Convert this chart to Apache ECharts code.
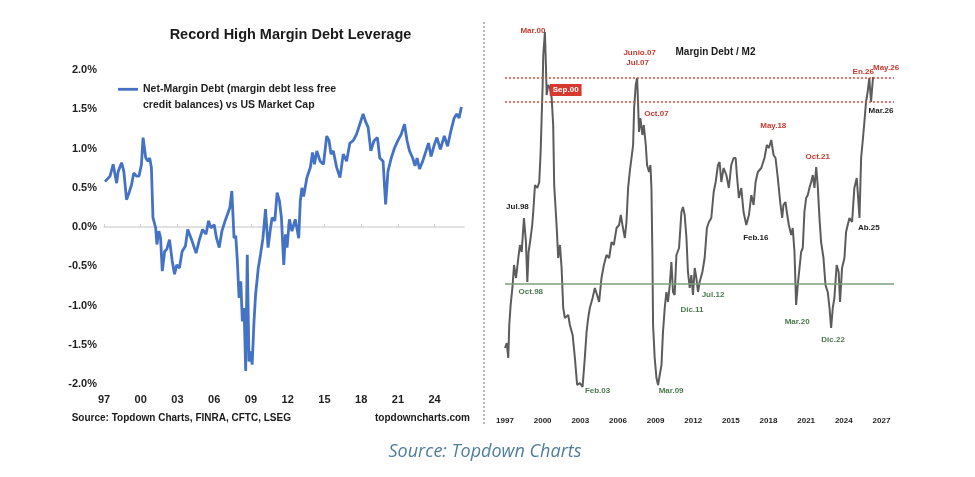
<!DOCTYPE html>
<html>
<head>
<meta charset="utf-8">
<script src="https://cdn.jsdelivr.net/npm/echarts@6/dist/echarts.min.js"></script>
<style>
html,body{margin:0;padding:0;background:#fff;}
#c{width:975px;height:477px;}
</style>
</head>
<body>
<div id="c"></div>
<script>
// ---------- Left panel: Net-Margin Debt vs US Market Cap (%) ----------
const leftYears = [
1997.08,1997.49,1997.75,1998.03,1998.16,1998.44,1998.62,1998.84,1999.05,1999.25,
1999.43,1999.65,1999.86,2000.06,2000.19,2000.41,2000.59,2000.73,2000.87,2001.00,
2001.22,2001.32,2001.48,2001.62,2001.76,2001.95,2002.13,2002.35,2002.57,2002.76,
2002.94,2003.16,2003.38,2003.65,2003.84,2004.11,2004.52,2004.79,2005.05,2005.33,
2005.54,2005.73,2006.00,2006.19,2006.41,2006.63,2006.89,2007.08,2007.28,2007.44,
2007.62,2007.76,2007.89,2008.03,2008.17,2008.30,2008.44,2008.57,2008.70,2008.84,
2008.97,2009.10,2009.25,2009.38,2009.60,2009.78,2009.98,2010.19,2010.40,2010.60,
2010.73,2010.95,2011.14,2011.33,2011.49,2011.68,2011.82,2011.95,2012.14,2012.35,
2012.62,2012.90,2013.03,2013.16,2013.30,2013.57,2013.85,2014.03,2014.19,2014.38,
2014.65,2014.92,2015.19,2015.38,2015.54,2015.73,2016.00,2016.27,2016.54,2016.81,
2017.08,2017.35,2017.62,2017.89,2018.16,2018.35,2018.57,2018.79,2019.05,2019.33,
2019.52,2019.79,2020.00,2020.19,2020.46,2020.73,2021.00,2021.27,2021.54,2021.75,
2021.95,2022.21,2022.40,2022.57,2022.77,2023.03,2023.30,2023.50,2023.71,2023.98,
2024.19,2024.47,2024.79,2025.06,2025.32,2025.60,2025.81,2026.00,2026.19];
const leftValues = [
0.58,0.65,0.80,0.56,0.71,0.82,0.71,0.35,0.44,0.54,
0.69,0.65,0.65,0.80,1.14,0.88,0.84,0.88,0.76,0.12,
-0.01,-0.22,-0.05,-0.14,-0.56,-0.31,-0.28,-0.16,-0.43,-0.60,
-0.48,-0.52,-0.31,-0.24,-0.03,-0.14,-0.33,-0.16,-0.03,-0.09,
0.08,-0.01,0.03,-0.14,-0.26,-0.05,0.08,0.16,0.25,0.46,
-0.14,-0.11,-0.43,-0.90,-0.69,-1.20,-1.03,-1.83,-0.35,-1.71,
-1.58,-1.75,-1.20,-0.86,-0.52,-0.35,-0.14,0.23,-0.26,-0.01,
0.12,0.08,0.44,0.33,0.12,-0.48,-0.09,-0.26,0.10,-0.05,
0.10,-0.14,0.33,0.50,0.39,0.63,0.76,0.95,0.80,0.97,
0.84,0.80,1.16,1.10,0.93,0.97,0.76,0.63,0.93,0.84,
1.07,1.10,1.18,1.31,1.44,1.35,1.27,0.97,1.10,1.14,
0.88,0.84,0.29,0.71,0.88,1.01,1.10,1.18,1.31,1.10,
0.97,0.88,0.78,0.88,0.74,0.84,0.97,1.07,0.90,1.05,
1.14,0.99,1.16,1.03,1.22,1.39,1.44,1.39,1.53];
const leftTickYears = [1997,2000,2003,2006,2009,2012,2015,2018,2021,2024];
const leftSeriesName = 'Net-Margin Debt (margin debt less free\ncredit balances) vs US Market Cap';

// ---------- Right panel: Margin Debt / M2 (%) ----------
const rightYears = [
1997.00,1997.14,1997.26,1997.34,1997.45,1997.61,1997.72,1997.88,1998.06,1998.19,
1998.33,1998.51,1998.67,1998.78,1998.88,1999.04,1999.17,1999.25,1999.39,1999.57,
1999.73,1999.84,1999.92,2000.00,2000.05,2000.18,2000.26,2000.32,2000.44,2000.58,
2000.72,2000.84,2000.92,2001.11,2001.24,2001.38,2001.51,2001.64,2001.77,2002.04,
2002.17,2002.39,2002.57,2002.75,2002.97,2003.18,2003.36,2003.50,2003.63,2003.76,
2003.98,2004.16,2004.34,2004.50,2004.69,2004.88,2005.09,2005.30,2005.49,2005.67,
2005.89,2006.09,2006.23,2006.36,2006.55,2006.68,2006.81,2006.94,2007.08,2007.21,
2007.29,2007.42,2007.53,2007.60,2007.68,2007.79,2007.95,2008.06,2008.22,2008.32,
2008.48,2008.59,2008.67,2008.75,2008.80,2008.93,2009.07,2009.20,2009.33,2009.47,
2009.59,2009.73,2009.86,2009.99,2010.13,2010.26,2010.39,2010.52,2010.66,2010.87,
2011.06,2011.18,2011.32,2011.46,2011.58,2011.72,2011.85,2011.98,2012.12,2012.25,
2012.38,2012.51,2012.73,2012.91,2013.09,2013.25,2013.44,2013.63,2013.79,2013.97,
2014.10,2014.24,2014.42,2014.64,2014.84,2015.03,2015.22,2015.38,2015.48,2015.64,
2015.83,2016.01,2016.23,2016.44,2016.63,2016.81,2016.97,2017.15,2017.42,2017.68,
2017.87,2018.03,2018.22,2018.40,2018.56,2018.74,2018.93,2019.09,2019.19,2019.35,
2019.46,2019.62,2019.81,2019.93,2020.07,2020.20,2020.33,2020.47,2020.60,2020.73,
2020.86,2021.00,2021.13,2021.26,2021.40,2021.53,2021.66,2021.80,2021.92,2022.06,
2022.19,2022.38,2022.54,2022.72,2022.86,2022.99,2023.12,2023.25,2023.43,2023.59,
2023.70,2023.86,2024.05,2024.18,2024.31,2024.45,2024.66,2024.84,2025.03,2025.11,
2025.25,2025.38,2025.50,2025.64,2025.77,2025.90,2026.03,2026.17,2026.33];
const rightValues = [
2.62,2.67,2.52,2.85,3.05,3.25,3.45,3.32,3.52,3.65,
3.58,3.92,3.68,3.28,3.58,3.72,3.85,3.98,4.25,4.22,
4.28,4.58,4.92,5.25,5.55,5.78,5.45,5.15,5.25,5.22,
5.12,4.85,4.25,3.85,3.52,3.65,3.42,3.02,2.92,2.95,
2.85,2.75,2.52,2.25,2.27,2.23,2.52,2.78,2.92,3.02,
3.12,3.22,3.15,3.08,3.32,3.45,3.55,3.52,3.68,3.65,
3.82,3.85,3.95,3.85,3.72,3.88,4.22,4.38,4.52,4.65,
5.02,5.25,5.32,5.08,4.78,4.92,4.75,4.85,4.65,4.45,
4.38,4.45,4.22,3.52,2.85,2.52,2.32,2.25,2.35,2.45,
2.78,3.02,3.18,3.08,3.25,3.48,3.18,3.15,3.55,3.62,
3.98,4.03,3.95,3.72,3.38,3.22,3.35,3.15,3.42,3.32,
3.18,3.28,3.38,3.52,3.82,3.88,3.92,4.18,4.28,4.45,
4.48,4.28,4.42,4.35,4.22,4.45,4.52,4.52,4.35,4.12,
4.22,3.98,3.85,3.95,4.15,4.05,4.28,4.38,4.42,4.52,
4.65,4.62,4.70,4.55,4.52,4.32,4.08,3.92,4.05,4.08,
3.98,3.85,3.75,3.82,3.58,3.05,3.25,3.42,3.58,3.62,
3.98,4.12,4.15,4.22,4.28,4.35,4.22,4.43,4.25,3.92,
3.68,3.52,3.25,3.18,3.02,2.82,3.02,3.12,3.45,3.38,
3.08,3.42,3.52,3.78,3.85,3.92,3.88,4.22,4.32,4.18,
3.92,4.52,4.68,4.88,5.08,5.18,5.32,5.08,5.33];
const rightTickYears = [1997,2000,2003,2006,2009,2012,2015,2018,2021,2024,2027];
const highLevels = [5.32, 5.08];   // red dotted reference lines
const lowLevel = 3.26;             // green reference line

// annotations on the right panel
const annotNames = ['Mar.00','Sep.00','Junio.07','Jul.07','Oct.07','May.18','Oct.21','En.26','May.26','Mar.26',
                    'Jul.98','Oct.98','Feb.03','Mar.09','Dic.11','Jul.12','Feb.16','Mar.20','Dic.22','Ab.25'];
const annotYears = [2000.18,2000.72,2007.53,2007.53,2007.79,2018.22,2021.80,2026.03,2026.33,2026.17,
                    1998.51,1998.78,2003.18,2009.20,2011.98,2012.38,2016.23,2020.20,2022.99,2025.25];
const annotKinds = ['high','box','high','high','high','high','high','high','high','neutral',
                    'neutral','low','low','low','low','low','neutral','low','low','neutral'];

// ---------- build ----------
const FONT = "'Liberation Sans', Arial, Helvetica, sans-serif";
const leftData = leftYears.map((y, i) => [y, leftValues[i]]);
const rightData = rightYears.map((y, i) => [y, rightValues[i]]);

function nearestRight(year) {
  let best = 0, bd = Infinity;
  rightYears.forEach((y, i) => { const d = Math.abs(y - year); if (d < bd) { bd = d; best = i; } });
  return [rightYears[best], rightValues[best]];
}
const annotOffsets = [[-12,-1],[14,-8],[2.5,-25],[0.5,-15],[16,-4],[2,-14],[1.5,-10],[-6,-6.5],[13,-9.5],[10,9],
                      [-6.5,-11.5],[3.5,9.7],[15,4],[13,6],[-1,15],[15,2.5],[9.5,12.3],[1,16.7],[2,12],[9.3,9.3]];
const kindColor = { high: '#c33a2e', low: '#4d7a4f', neutral: '#1e1e1e', box: '#ffffff' };
const markPoints = annotNames.map((n, i) => {
  const k = annotKinds[i];
  const lab = {
    show: true, position: 'inside', formatter: n, offset: annotOffsets[i],
    color: kindColor[k], fontSize: 8, fontWeight: 'bold', fontFamily: FONT
  };
  if (k === 'box') { lab.backgroundColor = '#d8392e'; lab.padding = [2, 3]; }
  return { coord: nearestRight(annotYears[i]), label: lab };
});

const chart = echarts.init(document.getElementById('c'), null, { renderer: 'canvas', width: 975, height: 477 });
const labelStyle = { color: '#1e1e1e', fontWeight: 'bold', fontFamily: FONT };

chart.setOption({
  backgroundColor: '#ffffff',
  animation: false,
  grid: [
    { left: 104, top: 70, width: 360, height: 314.3 },
    { left: 505, top: 30, width: 389, height: 380 }
  ],
  legend: {
    data: [leftSeriesName],
    left: 118, top: 65.3, padding: 0,
    icon: 'rect', itemWidth: 20, itemHeight: 2.8,
    selectedMode: false,
    formatter: name => '\n' + name,
    textStyle: { color: '#1e1e1e', fontSize: 10.5, fontWeight: 'bold', fontFamily: FONT, lineHeight: 16 }
  },
  xAxis: [
    { type: 'value', gridIndex: 0, min: 1997, max: 2026.4,
      axisLine: { show: true, onZero: true, lineStyle: { color: '#d8d8d8', width: 1.5 } },
      axisTick: { show: true, inside: true, length: 3, customValues: leftTickYears, lineStyle: { color: '#d0d0d0', width: 1 } },
      axisLabel: { show: false }, splitLine: { show: false } },
    { type: 'value', gridIndex: 0, min: 1997, max: 2026.4, position: 'bottom',
      axisLine: { show: false, onZero: false }, axisTick: { show: false }, splitLine: { show: false },
      axisLabel: Object.assign({ fontSize: 11, margin: 10, customValues: leftTickYears,
        formatter: v => String(Math.round(v) % 100).padStart(2, '0') }, labelStyle) },
    { type: 'value', gridIndex: 1, min: 1997, max: 2028,
      axisLine: { show: false, onZero: false }, axisTick: { show: false }, splitLine: { show: false },
      axisLabel: Object.assign({ fontSize: 8, margin: 7, customValues: rightTickYears,
        formatter: v => String(Math.round(v)) }, labelStyle) }
  ],
  yAxis: [
    { type: 'value', gridIndex: 0, min: -2, max: 2, interval: 0.5,
      axisLine: { show: false }, axisTick: { show: false }, splitLine: { show: false },
      axisLabel: Object.assign({ fontSize: 11, margin: 7, formatter: v => v.toFixed(1) + '%' }, labelStyle) },
    { type: 'value', gridIndex: 1, min: 2.0, max: 5.8, show: false, splitLine: { show: false } }
  ],
  series: [
    { name: leftSeriesName, type: 'line', xAxisIndex: 0, yAxisIndex: 0, data: leftData,
      showSymbol: false, symbol: 'none', lineStyle: { color: '#4472c4', width: 2.8 }, itemStyle: { color: '#4472c4' } },
    { name: 'Margin Debt / M2', type: 'line', xAxisIndex: 2, yAxisIndex: 1, data: rightData,
      showSymbol: false, symbol: 'none', lineStyle: { color: '#5c5c5c', width: 2 }, itemStyle: { color: '#5c5c5c' },
      markLine: {
        silent: true, symbol: 'none', label: { show: false }, animation: false,
        data: [
          { yAxis: highLevels[0], lineStyle: { color: '#e04a3f', type: [2, 2], width: 1.5 } },
          { yAxis: highLevels[1], lineStyle: { color: '#e04a3f', type: [2, 2], width: 1.5 } },
          { yAxis: lowLevel, lineStyle: { color: '#7c9f7e', type: 'solid', width: 1.6 } }
        ]
      },
      markPoint: { symbol: 'circle', symbolSize: 1, itemStyle: { color: 'rgba(0,0,0,0)' }, silent: true, data: markPoints }
    }
  ],
  graphic: [
    { type: 'text', x: 290.5, y: 35, style: { text: 'Record High Margin Debt Leverage', fill: '#1a1a1a',
        font: "bold 14.5px " + FONT, textAlign: 'center', textVerticalAlign: 'middle' } },
    { type: 'text', x: 715.5, y: 52.7, style: { text: 'Margin Debt / M2', fill: '#1a1a1a',
        font: "bold 10px " + FONT, textAlign: 'center', textVerticalAlign: 'middle' } },
    { type: 'text', x: 71.7, y: 418.3, style: { text: 'Source: Topdown Charts, FINRA, CFTC, LSEG', fill: '#1a1a1a',
        font: "bold 10px " + FONT, textAlign: 'left', textVerticalAlign: 'middle' } },
    { type: 'text', x: 470, y: 418.3, style: { text: 'topdowncharts.com', fill: '#1a1a1a',
        font: "bold 10px " + FONT, textAlign: 'right', textVerticalAlign: 'middle' } },
    { type: 'line', shape: { x1: 484, y1: 22, x2: 484, y2: 426 }, style: { stroke: '#777777', lineWidth: 1, lineDash: [2, 2] } },
    { type: 'text', x: 485, y: 451.7, style: { text: 'Source: Topdown Charts', fill: '#4f7e9a',
        font: "italic 18px 'Open Sans', 'Noto Sans', sans-serif", textAlign: 'center', textVerticalAlign: 'middle' } }
  ]
});
</script>
</body>
</html>
